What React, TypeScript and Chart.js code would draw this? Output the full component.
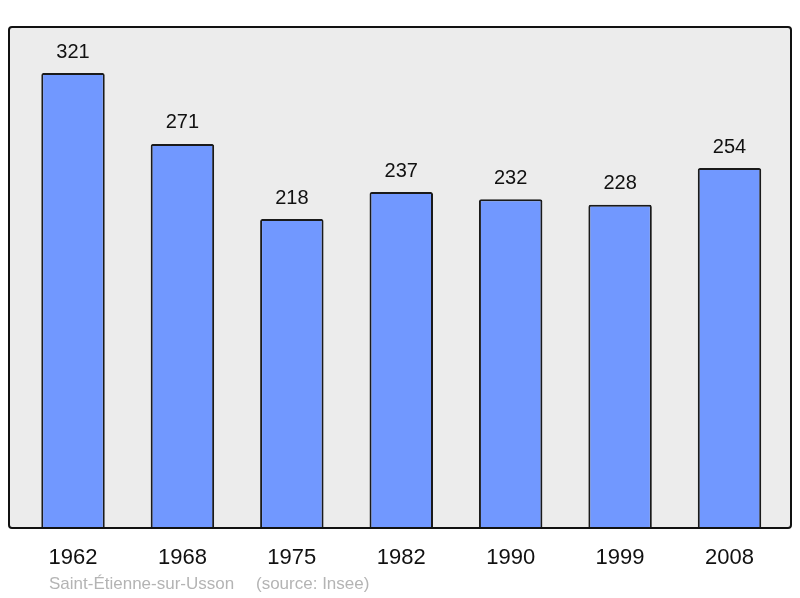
import React, { useEffect, useRef } from "react";
import Chart from "chart.js/auto";

const years = ["1962", "1968", "1975", "1982", "1990", "1999", "2008"];
const population = [321, 271, 218, 237, 232, 228, 254];
const place = "Saint-Étienne-sur-Usson";
const source = "(source: Insee)";

const FONT = "'Liberation Sans', Arial, sans-serif";

// gray panel with a black rounded border behind the bars
const panelPlugin = {
  id: "panel",
  beforeDatasetsDraw(chart: any) {
    const { ctx, chartArea } = chart;
    const { left, top, right, bottom } = chartArea;
    ctx.save();
    ctx.beginPath();
    ctx.roundRect(left, top, right - left, bottom - top, 3);
    ctx.fillStyle = "#ececec";
    ctx.fill();
    ctx.restore();
  },
  afterDatasetsDraw(chart: any) {
    const { ctx, chartArea } = chart;
    const { left, top, right, bottom } = chartArea;
    ctx.save();
    ctx.beginPath();
    ctx.roundRect(left, top, right - left, bottom - top, 3);
    ctx.lineWidth = 2;
    ctx.strokeStyle = "#111";
    ctx.stroke();
    ctx.restore();
  },
};

const valueLabels = {
  id: "valueLabels",
  afterDatasetsDraw(chart: any) {
    const { ctx } = chart;
    const meta = chart.getDatasetMeta(0);
    ctx.save();
    ctx.font = `20px ${FONT}`;
    ctx.fillStyle = "#111";
    ctx.textAlign = "center";
    ctx.textBaseline = "middle";
    meta.data.forEach((bar: any, i: number) => {
      ctx.fillText(String(population[i]), bar.x, bar.y - 21);
    });
    ctx.restore();
  },
};

const captionPlugin = {
  id: "caption",
  afterDraw(chart: any) {
    const { ctx } = chart;
    ctx.save();
    ctx.font = `17px ${FONT}`;
    ctx.fillStyle = "#b4b4b4";
    ctx.textAlign = "left";
    ctx.textBaseline = "middle";
    ctx.fillText(place, 49, 584);
    ctx.fillText(source, 256, 584);
    ctx.restore();
  },
};

const App = () => {
  const chartRef = useRef<HTMLCanvasElement>(null);

  useEffect(() => {
    if (!chartRef.current) return;
    const ctx = chartRef.current.getContext("2d");
    if (!ctx) return;

    const chart = new Chart(ctx, {
      type: "bar",
      data: {
        datasets: [
          {
            data: population.map((v, i) => ({ x: i, y: v })),
            backgroundColor: "#7198ff",
            borderColor: "#1a1a1a",
            borderWidth: 2,
            borderSkipped: "bottom",
            borderRadius: 2,
            categoryPercentage: 1,
            barPercentage: 0.58,
          },
        ],
      },
      options: {
        animation: false,
        responsive: false,
        layout: { padding: { left: 9, right: 9, top: 27, bottom: 0 } },
        plugins: {
          legend: { display: false },
          tooltip: { enabled: false },
        },
        scales: {
          x: {
            type: "linear",
            offset: false,
            min: -0.585,
            max: 6.562,
            grid: { display: false },
            border: { display: false },
            afterBuildTicks: (axis: any) => {
              axis.ticks = years.map((_, i) => ({ value: i }));
            },
            afterFit: (axis: any) => {
              axis.height = 70;
            },
            ticks: {
              padding: 9,
              color: "#111",
              font: { family: FONT, size: 22 },
              maxRotation: 0,
              autoSkip: false,
              callback: (value: any) => years[value] ?? "",
            },
          },
          y: {
            display: false,
            min: 0,
            max: 353.5,
          },
        },
      },
      plugins: [panelPlugin, valueLabels, captionPlugin],
    });

    return () => {
      chart.destroy();
    };
  }, []);

  return (
    <div style={{ position: "fixed", left: 0, top: 0, width: 800, height: 598, background: "#fff" }}>
      <canvas ref={chartRef} width="800" height="598"></canvas>
    </div>
  );
};

export default App;
